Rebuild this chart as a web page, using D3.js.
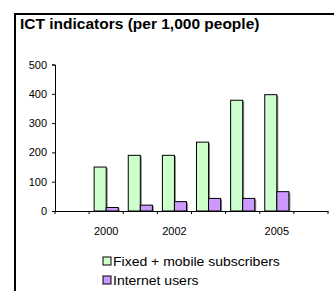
<!DOCTYPE html>
<html>
<head>
<meta charset="utf-8">
<script src="https://cdn.jsdelivr.net/npm/d3@7"></script>
<style>
  body { margin: 0; background: #fff; }
  svg { display: block; }
  text { font-family: "Liberation Sans", Arial, sans-serif; }
</style>
</head>
<body>
<svg></svg>
<script>
const categories = ['1999', '2000', '2001', '2002', '2003', '2004', '2005', '2006'];
const tickLabels = ['2000', '2002', '2005'];
const seriesNames = ['Fixed + mobile subscribers', 'Internet users'];
const fixedMobile = [null, 150, 190, 190, 235, 378, 397, null];
const internetUsers = [null, 12, 20, 32, 43, 43, 66, null];
const yTicks = [0, 100, 200, 300, 400, 500];

const colors = ['#ccffcc', '#cc99ff'];

const svgWidth = 334;
const svgHeight = 291;
const margin = { top: 64.5, right: 6, bottom: 80, left: 55 };
const width = svgWidth - margin.left - margin.right;
const height = svgHeight - margin.top - margin.bottom;

const root = d3.select('svg')
    .attr('width', svgWidth)
    .attr('height', svgHeight);

// frame + title
root.append('rect')
    .attr('x', 15)
    .attr('y', 14)
    .attr('width', 400)
    .attr('height', 400)
    .attr('fill', 'none')
    .attr('stroke', '#000')
    .attr('stroke-width', 2);

// original text is a bit wider than Arial, so stretch it a little
root.append('text')
    .attr('transform', 'translate(20, 29) scale(1.07, 1)')
    .attr('font-size', '14.5px')
    .attr('font-weight', 'bold')
    .text('ICT indicators (per 1,000 people)');

const svg = root.append('g')
    .attr('transform', `translate(${margin.left}, ${margin.top})`);

const data = categories.map((c, i) => ({
    year: c,
    values: [fixedMobile[i], internetUsers[i]]
}));

const x0 = d3.scaleBand()
    .domain(categories)
    .range([0, width]);

const x1 = d3.scaleBand()
    .domain(d3.range(seriesNames.length))
    .range([5, x0.bandwidth() - 5]);

const yScale = d3.scaleLinear()
    .domain([0, 500])
    .range([height, 0]);

// bars
const groups = svg.selectAll('.grp')
    .data(data)
    .enter().append('g')
    .attr('class', 'grp')
    .attr('transform', d => `translate(${x0(d.year)}, 0)`);

const barData = d => d.values.map((v, k) => ({ k, v })).filter(e => e.v != null);

// thin grey shadow on the right edge
groups.selectAll('.shadow')
    .data(barData)
    .enter().append('rect')
    .attr('class', 'shadow')
    .attr('x', e => x1(e.k) + 1.5)
    .attr('y', e => yScale(e.v) + 1)
    .attr('width', x1.bandwidth())
    .attr('height', e => height - yScale(e.v) - 1)
    .attr('fill', '#888');

groups.selectAll('.bar')
    .data(barData)
    .enter().append('rect')
    .attr('class', 'bar')
    .attr('x', e => x1(e.k))
    .attr('y', e => yScale(e.v))
    .attr('width', x1.bandwidth())
    .attr('height', e => height - yScale(e.v))
    .attr('fill', e => colors[e.k])
    .attr('stroke', '#000')
    .attr('stroke-width', 1);

// axes
const xAxis = svg.append('g')
    .attr('transform', `translate(0, ${height})`)
    .call(d3.axisBottom(x0).tickSize(0).tickFormat(d => tickLabels.includes(d) ? d : ''));
xAxis.select('.domain').attr('stroke', '#000');
xAxis.selectAll('text').attr('font-size', '11px').attr('dy', '1.9em').attr('fill', '#000');

// boundary ticks between categories
const bounds = categories.map(c => x0(c)).concat([x0.range()[1]]);
svg.append('g')
    .selectAll('line')
    .data(bounds)
    .enter().append('line')
    .attr('x1', d => d)
    .attr('x2', d => d)
    .attr('y1', height)
    .attr('y2', height + 3)
    .attr('stroke', '#000');

const yAxis = svg.append('g')
    .call(d3.axisLeft(yScale).tickValues(yTicks).tickSize(3).tickPadding(5));
yAxis.select('.domain').attr('stroke', '#000');
yAxis.selectAll('text').attr('font-size', '11px').attr('fill', '#000');

// legend
const legend = root.append('g')
    .attr('transform', 'translate(103, 257)');

const items = legend.selectAll('g')
    .data(seriesNames)
    .enter().append('g')
    .attr('transform', (d, i) => `translate(0, ${i * 19})`);

items.append('rect')
    .attr('width', 8)
    .attr('height', 8)
    .attr('fill', (d, i) => colors[i])
    .attr('stroke', '#000');

items.append('text')
    .attr('transform', 'translate(10, 8.5) scale(1.12, 1)')
    .attr('font-size', '12.5px')
    .text(d => d);
</script>
</body>
</html>
